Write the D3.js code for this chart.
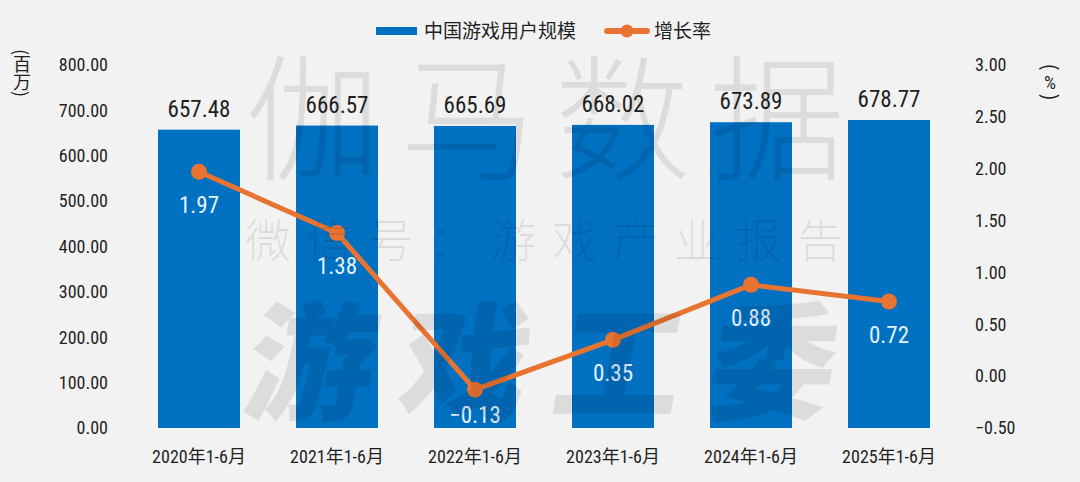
<!DOCTYPE html>
<html><head><meta charset="utf-8">
<script src="https://cdn.jsdelivr.net/npm/d3@7/dist/d3.min.js"></script>
<style>
html,body{margin:0;padding:0;background:#f2f2f2;}
svg{display:block;}
</style></head>
<body>
<svg id="chart" width="1080" height="482"></svg>
<script>
const categories = ["2020年1-6月","2021年1-6月","2022年1-6月","2023年1-6月","2024年1-6月","2025年1-6月"];
const users = [657.48, 666.57, 665.69, 668.02, 673.89, 678.77];
const growth = [1.97, 1.38, -0.13, 0.35, 0.88, 0.72];
const leftTicks = [0,100,200,300,400,500,600,700,800];
const rightTicks = [-0.5,0,0.5,1.0,1.5,2.0,2.5,3.0];
const seriesNames = ["中国游戏用户规模","增长率"];
const leftTitle = "(百万)";
const rightTitle = ["(","%",")"];
const watermark = ["伽马数据","微信号：游戏产业报告","游戏工委"];

const BLUE = "#0070C0", ORANGE = "#E97432", TXT = "#1f1f1f";
const NUM = "'Roboto Condensed','Roboto','Liberation Sans',sans-serif";
const CJK = "'Noto Sans CJK SC','Noto Sans',sans-serif";

const svg = d3.select("#chart");
svg.append("rect").attr("width",1080).attr("height",482).attr("fill","#f2f2f2");

const x = d3.scaleBand().domain(categories).range([130, 958]).paddingInner(0.406).paddingOuter(0.203);
const yL = d3.scaleLinear().domain([0,800]).range([428,65]);
const yR = d3.scaleLinear().domain([-0.5,3]).range([428,65]);
const fmt = d3.format(".2f");

// left axis
const gL = svg.append("g").attr("transform","translate(112,0)")
  .call(d3.axisLeft(yL).tickValues(leftTicks).tickFormat(fmt).tickSize(0).tickPadding(4));
gL.select(".domain").remove();
gL.selectAll("text").attr("font-family",NUM).attr("font-size",18).attr("fill",TXT);

// right axis
const gR = svg.append("g").attr("transform","translate(970,0)")
  .call(d3.axisRight(yR).tickValues(rightTicks).tickFormat(fmt).tickSize(0).tickPadding(5));
gR.select(".domain").remove();
gR.selectAll("text").attr("font-family",NUM).attr("font-size",18).attr("fill",TXT);

// x axis
const gX = svg.append("g").attr("transform","translate(0,428)")
  .call(d3.axisBottom(x).tickSize(0).tickPadding(22));
gX.select(".domain").remove();
gX.selectAll("text").attr("font-family",NUM+","+CJK).attr("font-size",18).attr("fill",TXT);

// bars
svg.append("g").selectAll("rect").data(users).join("rect")
  .attr("x",(d,i)=>x(categories[i])).attr("width",x.bandwidth())
  .attr("y",d=>yL(d)).attr("height",d=>yL(0)-yL(d)).attr("fill",BLUE);

svg.append("g").selectAll("text").data(users).join("text")
  .attr("x",(d,i)=>x(categories[i])+x.bandwidth()/2).attr("y",d=>yL(d)-13)
  .attr("text-anchor","middle").attr("font-family",NUM).attr("font-size",23)
  .attr("fill",TXT).text(d=>fmt(d));

// line
const cx = i => x(categories[i]) + x.bandwidth()/2;
const line = d3.line().x((d,i)=>cx(i)).y(d=>yR(d));
svg.append("path").datum(growth).attr("d",line).attr("fill","none")
  .attr("stroke",ORANGE).attr("stroke-width",5).attr("stroke-linejoin","round");
svg.append("g").selectAll("circle").data(growth).join("circle")
  .attr("cx",(d,i)=>cx(i)).attr("cy",d=>yR(d)).attr("r",8).attr("fill",ORANGE);
svg.append("g").selectAll("text").data(growth).join("text")
  .attr("x",(d,i)=>cx(i)).attr("y",d=>Math.min(yR(d)+33,415))
  .attr("dy","0.35em").attr("text-anchor","middle").attr("font-family",NUM)
  .attr("font-size",23).attr("fill","#e4f2ff").text(d=>fmt(d));

// legend
const lg = svg.append("g");
lg.append("rect").attr("x",376).attr("y",27).attr("width",41).attr("height",8).attr("fill",BLUE);
lg.append("text").attr("x",424).attr("y",31).attr("dy","0.35em").attr("font-family",CJK)
  .attr("font-size",19).attr("fill",TXT).text(seriesNames[0]);
lg.append("line").attr("x1",607).attr("x2",647).attr("y1",31).attr("y2",31)
  .attr("stroke",ORANGE).attr("stroke-width",6).attr("stroke-linecap","round");
lg.append("circle").attr("cx",627).attr("cy",31).attr("r",6.5).attr("fill",ORANGE);
lg.append("text").attr("x",654).attr("y",31).attr("dy","0.35em").attr("font-family",CJK)
  .attr("font-size",19).attr("fill",TXT).text(seriesNames[1]);

// axis titles
svg.append("text").attr("x",22).attr("y",49).attr("font-family",CJK).attr("font-size",18)
  .attr("fill",TXT).style("writing-mode","vertical-rl").text(leftTitle);
const rt = svg.append("g").attr("font-family",CJK).attr("font-size",20).attr("fill",TXT);
rt.append("text").attr("transform","translate(1050,67) rotate(90)").attr("text-anchor","middle").attr("dy","0.35em").text(rightTitle[0]);
rt.append("text").attr("x",1050).attr("y",82).attr("text-anchor","middle").attr("dy","0.35em").attr("font-family",NUM).attr("font-size",19).text(rightTitle[1]);
rt.append("text").attr("transform","translate(1050,97) rotate(90)").attr("text-anchor","middle").attr("dy","0.35em").text(rightTitle[2]);

// watermark
const wm = svg.append("g").attr("fill","#000").attr("fill-opacity",0.09).style("pointer-events","none");
wm.append("text").attr("x",245).attr("y",170).attr("font-family",CJK).attr("font-weight",300)
  .attr("font-size",136).attr("textLength",600).attr("lengthAdjust","spacing").text(watermark[0]);
wm.append("text").attr("x",245).attr("y",257).attr("font-family",CJK).attr("font-weight",300)
  .attr("font-size",46).attr("textLength",598).attr("lengthAdjust","spacing").text(watermark[1]);
wm.append("g").attr("transform","translate(240,410) skewX(-10)")
  .append("text").attr("x",0).attr("y",0).attr("font-family",CJK).attr("font-weight",900)
  .attr("font-size",128).attr("textLength",590).attr("lengthAdjust","spacing").text(watermark[2]);
</script>
</body></html>
